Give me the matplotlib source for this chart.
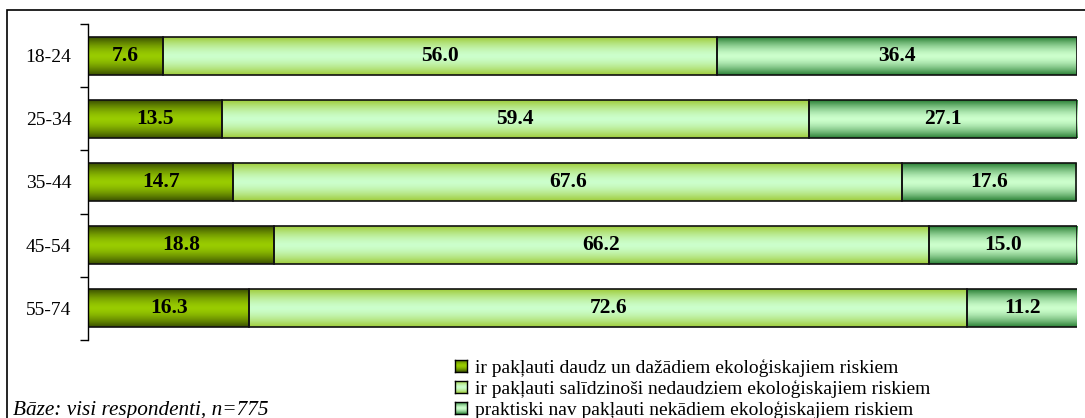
import numpy as np
import matplotlib.pyplot as plt
from matplotlib.colors import to_rgb
from matplotlib.patches import Rectangle

age_groups = ['18-24', '25-34', '35-44', '45-54', '55-74']
many_risks = [7.6, 13.5, 14.7, 18.8, 16.3]
few_risks = [56.0, 59.4, 67.6, 66.2, 72.6]
no_risks = [36.4, 27.1, 17.6, 15.0, 11.2]

series_names = [
    'ir pakļauti daudz un dažādiem ekoloģiskajiem riskiem',
    'ir pakļauti salīdzinoši nedaudziem ekoloģiskajiem riskiem',
    'praktiski nav pakļauti nekādiem ekoloģiskajiem riskiem',
]
# (edge colour, centre colour) for the vertical gradient of each series
gradients = [('#3a5000', '#99cc00'), ('#9fcc3a', '#ccffcc'), ('#2a8035', '#ccffcc')]

plt.rcParams['font.family'] = ['Liberation Serif', 'DejaVu Serif']

fig = plt.figure(figsize=(10.85, 4.18), dpi=100)
ax = fig.add_axes([88 / 1085, 1 - 340 / 418, (1077 - 88) / 1085, 316 / 418])

# outer frame
fig.patches.append(Rectangle((7 / 1085, -0.1), 1.2, 1 - 10 / 418 + 0.1,
                             transform=fig.transFigure, fill=False,
                             edgecolor='black', linewidth=1.2))


def gradient_image(edge, centre, n=64):
    t = np.abs(np.linspace(-1, 1, n)) ** 1.6
    e, c = np.array(to_rgb(edge)), np.array(to_rgb(centre))
    rows = c[None, :] + (e - c)[None, :] * t[:, None]
    return rows[:, None, :]


height = 0.6
lefts = np.zeros(len(age_groups))
for values, (edge, centre) in zip([many_risks, few_risks, no_risks], gradients):
    img = gradient_image(edge, centre)
    for i, v in enumerate(values):
        ax.imshow(img, extent=(lefts[i], lefts[i] + v, i + height / 2, i - height / 2),
                  aspect='auto', interpolation='bilinear', zorder=1)
        ax.add_patch(Rectangle((lefts[i], i - height / 2), v, height, fill=False,
                               edgecolor='#111111', linewidth=1.2, zorder=2))
        ax.text(lefts[i] + v / 2, i, f'{v:.1f}', ha='center', va='center',
                fontsize=15.5, fontweight='bold', zorder=3)
    lefts += np.array(values)

ax.set_xlim(0, 100)
ax.set_ylim(len(age_groups) - 0.5, -0.5)
ax.set_yticks(range(len(age_groups)))
ax.set_yticklabels(age_groups, fontsize=14)
ax.set_yticks(np.arange(-0.5, len(age_groups)), minor=True)
ax.tick_params(axis='y', which='major', length=0, pad=12)
ax.tick_params(axis='y', which='minor', length=6, width=1)
ax.set_xticks([])
for side in ['top', 'right', 'bottom']:
    ax.spines[side].set_visible(False)
ax.spines['left'].set_linewidth(1)

# legend: small gradient squares with the series names
for k, (name, (edge, centre)) in enumerate(zip(series_names, gradients)):
    y_top = 360 + k * 21
    sq = fig.add_axes([455 / 1085, 1 - (y_top + 12) / 418, 12 / 1085, 12 / 418])
    sq.imshow(gradient_image(edge, centre), aspect='auto', interpolation='bilinear')
    sq.set_xticks([])
    sq.set_yticks([])
    for s in sq.spines.values():
        s.set_linewidth(1)
    fig.text(475 / 1085, 1 - (y_top + 13) / 418, name, fontsize=14,
             ha='left', va='baseline')

fig.text(13 / 1085, 1 - 415 / 418, 'Bāze: visi respondenti, n=775', fontsize=15.3,
         style='italic', ha='left', va='baseline')

fig.savefig('out.png', dpi=100)
